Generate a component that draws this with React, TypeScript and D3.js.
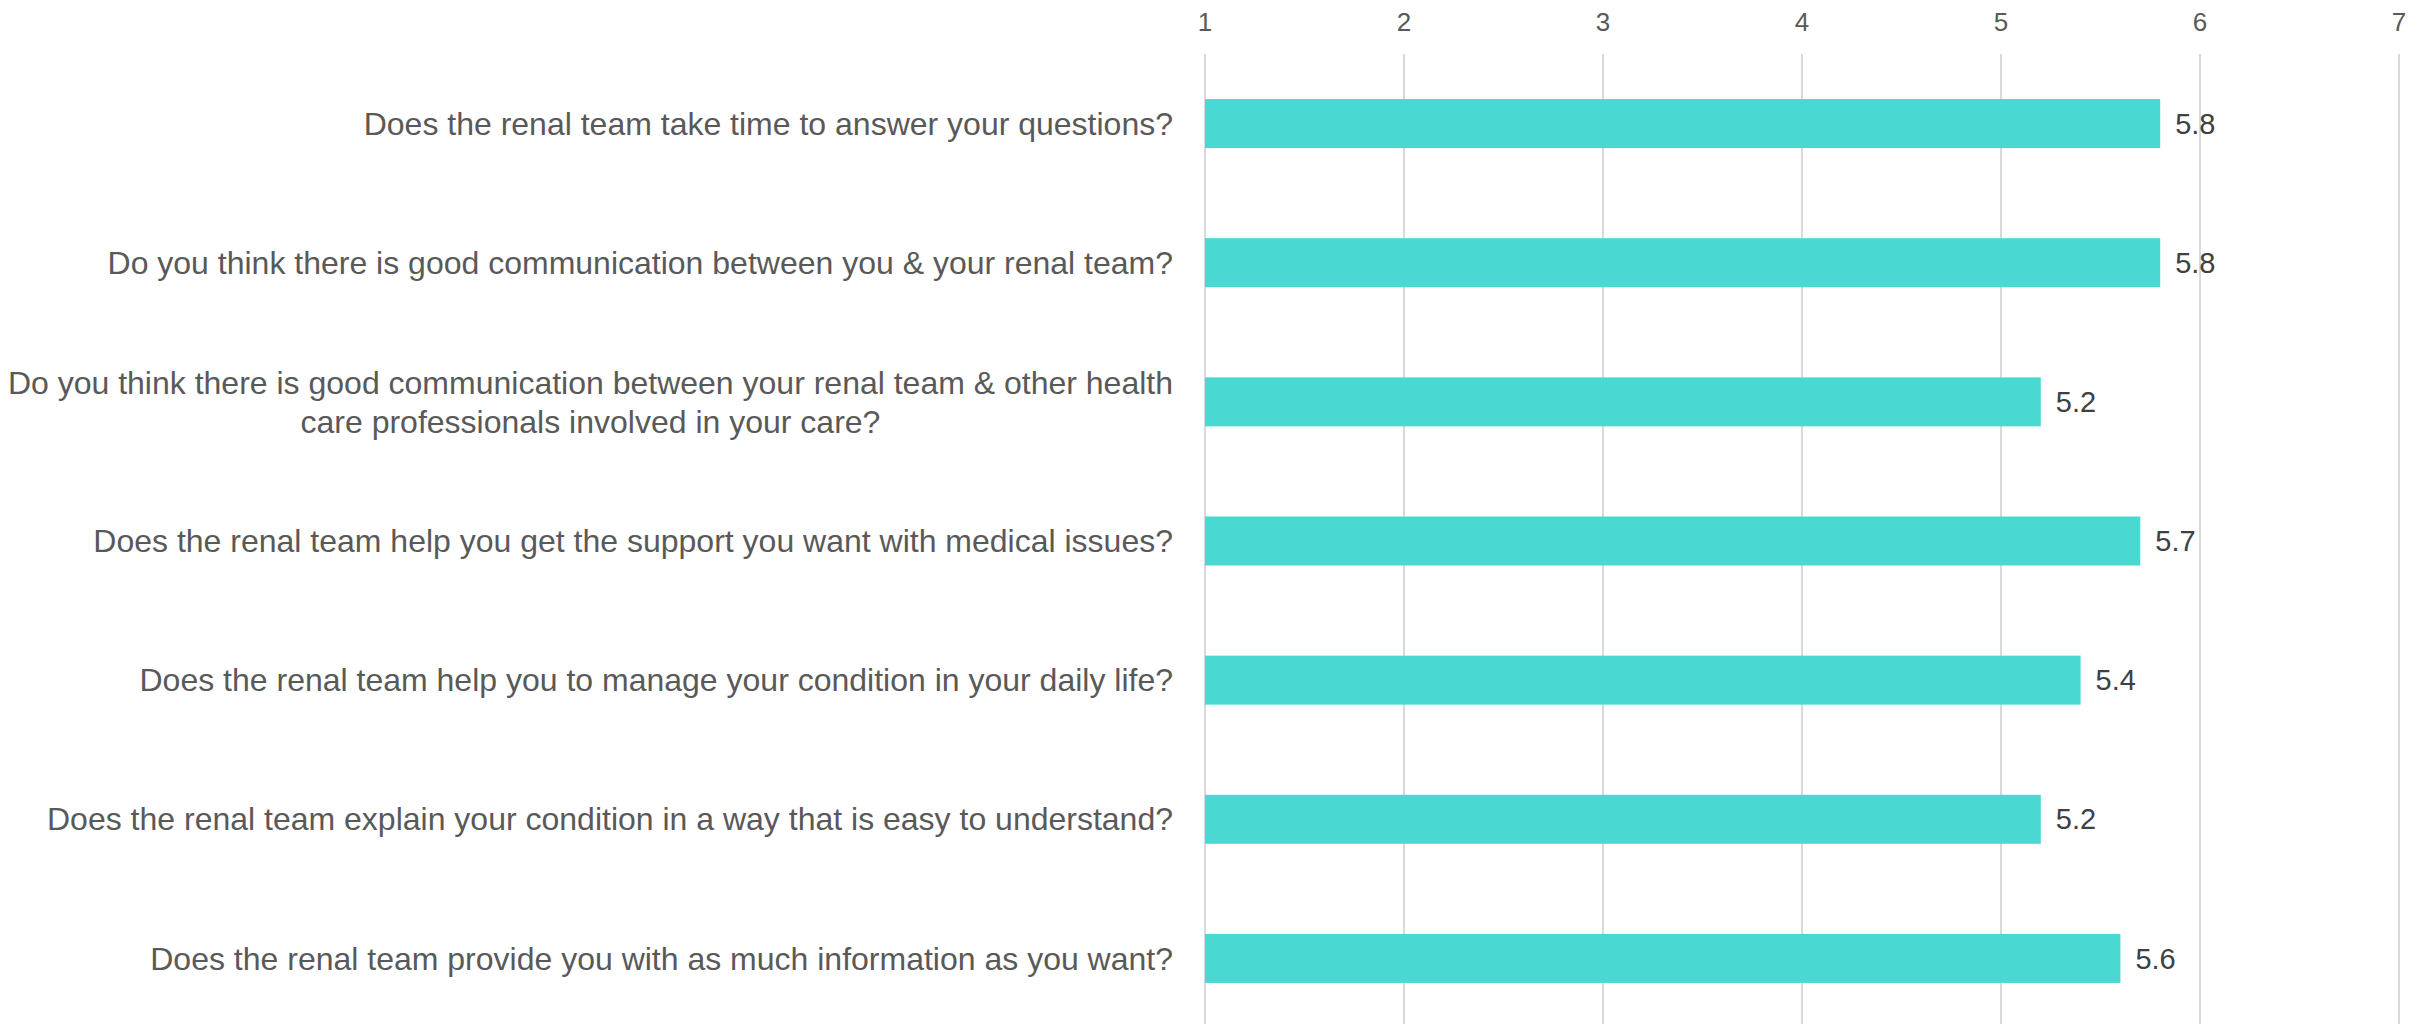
import React, { useEffect, useRef } from 'react';
import * as d3 from 'd3';

const questions = [
  'Does the renal team take time to answer your questions?',
  'Do you think there is good communication between you & your renal team?',
  'Do you think there is good communication between your renal team & other health care professionals involved in your care?',
  'Does the renal team help you get the support you want with medical issues?',
  'Does the renal team help you to manage your condition in your daily life?',
  'Does the renal team explain your condition in a way that is easy to understand?',
  'Does the renal team provide you with as much information as you want?',
];
const scores = [5.8, 5.8, 5.2, 5.7, 5.4, 5.2, 5.6];
const tickValues = [1, 2, 3, 4, 5, 6, 7];

const W = 2433;
const H = 1024;
const FONT = "'Liberation Sans', Arial, sans-serif";

const App = () => {
  const ref = useRef(null);

  useEffect(() => {
    const svg = d3.select(ref.current);
    svg.selectAll('*').remove();

    const x = d3.scaleLinear().domain([1, 7]).range([1205, 2399]);
    const y = d3
      .scaleBand()
      .domain(questions)
      .range([54, 1028])
      .paddingInner(0.648)
      .paddingOuter(0.324);

    // grid lines
    svg.append('g')
      .selectAll('line')
      .data(tickValues)
      .enter()
      .append('line')
      .attr('x1', d => x(d))
      .attr('x2', d => x(d))
      .attr('y1', 54)
      .attr('y2', 1028)
      .attr('stroke', '#d9d9d9')
      .attr('stroke-width', 2);

    // tick labels on top
    svg.append('g')
      .selectAll('text')
      .data(tickValues)
      .enter()
      .append('text')
      .attr('x', d => x(d))
      .attr('y', 31)
      .attr('text-anchor', 'middle')
      .attr('font-family', FONT)
      .attr('font-size', 26)
      .attr('fill', '#595959')
      .text(d => d);

    // bars
    svg.append('g')
      .selectAll('rect')
      .data(scores)
      .enter()
      .append('rect')
      .attr('x', x(1))
      .attr('y', (d, i) => y(questions[i]))
      .attr('width', d => x(d) - x(1))
      .attr('height', y.bandwidth())
      .attr('fill', '#49d9d2');

    // value labels
    svg.append('g')
      .selectAll('text')
      .data(scores)
      .enter()
      .append('text')
      .attr('x', d => x(d) + 15)
      .attr('y', (d, i) => y(questions[i]) + y.bandwidth() / 2)
      .attr('dy', '0.35em')
      .attr('font-family', FONT)
      .attr('font-size', 29)
      .attr('fill', '#404040')
      .text(d => d3.format('.1f')(d));

    // category labels, wrapped and centred when too long
    const right = 1173;
    const maxW = 1180;
    const lineH = 39;
    const g = svg.append('g');
    questions.forEach(q => {
      const cy = y(q) + y.bandwidth() / 2;
      const t = g.append('text')
        .attr('font-family', FONT)
        .attr('font-size', 32)
        .attr('fill', '#595959');
      const words = q.split(' ');
      const lines = [];
      let cur = [];
      const probe = t.append('tspan');
      words.forEach(w => {
        const test = [...cur, w].join(' ');
        probe.text(test);
        if (probe.node().getComputedTextLength() > maxW && cur.length) {
          lines.push(cur.join(' '));
          cur = [w];
        } else {
          cur.push(w);
        }
      });
      lines.push(cur.join(' '));
      probe.text(lines[0]);
      const widest = probe.node().getComputedTextLength();
      probe.remove();
      if (lines.length === 1) {
        t.attr('x', right).attr('y', cy).attr('dy', '0.35em').attr('text-anchor', 'end').text(q);
      } else {
        const cx = right - widest / 2;
        const y0 = cy - ((lines.length - 1) * lineH) / 2;
        t.attr('text-anchor', 'middle');
        lines.forEach((ln, i) => {
          t.append('tspan')
            .attr('x', cx)
            .attr('y', y0 + i * lineH)
            .attr('dy', '0.35em')
            .text(ln);
        });
      }
    });
  }, []);

  return (
    <svg
      ref={ref}
      width={W}
      height={H}
      style={{ position: 'absolute', left: 0, top: 0, background: '#fff' }}
    ></svg>
  );
};

export default App;
